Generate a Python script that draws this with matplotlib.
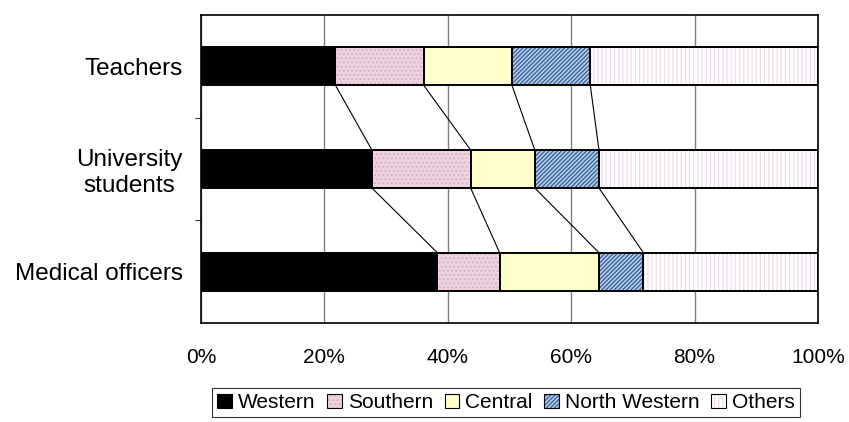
import matplotlib.pyplot as plt
import matplotlib.patches as mpatches
import numpy as np

plt.rcParams['font.family'] = ['Liberation Sans', 'DejaVu Sans']
plt.rcParams['hatch.linewidth'] = 0.9

grupos = ['Teachers', 'University\nstudents', 'Medical officers']
regioes = ['Western', 'Southern', 'Central', 'North Western', 'Others']

# percentagem por região, uma lista por região (ordem dos grupos acima)
western = [21.8, 27.7, 38.3]
southern = [14.3, 16.0, 10.1]
central = [14.3, 10.4, 16.1]
north_western = [12.7, 10.4, 7.2]
others = [36.9, 35.5, 28.3]

ticks_x = [0, 20, 40, 60, 80, 100]
ticks_x_labels = ['0%', '20%', '40%', '60%', '80%', '100%']

valores = np.array([western, southern, central, north_western, others])

# cor de fundo, hachura e cor da hachura de cada região
fundo = ['black', '#EDD3E0', '#FFFFCC', '#B9CCE4', 'white']
hachura = [None, '....', None, '////////', '||||']
cor_hachura = ['black', '#D7AFC5', 'black', '#2F5F9F', '#EFDCEA']

fig = plt.figure(figsize=(8.49, 4.22), dpi=100)
ax = fig.add_axes([0.2367, 0.2346, 0.9635 - 0.2367, 0.9645 - 0.2346])

y = np.arange(len(grupos))
altura = 0.37
inicio = np.zeros(len(grupos))
handles = []
for i in range(len(regioes)):
    # camada de preenchimento/hachura
    ax.barh(y, valores[i], left=inicio, height=altura, color=fundo[i],
            hatch=hachura[i], edgecolor=cor_hachura[i], linewidth=0, zorder=3)
    # contorno preto
    ax.barh(y, valores[i], left=inicio, height=altura, fill=False,
            edgecolor='black', linewidth=1.4, zorder=4)
    h1 = mpatches.Patch(facecolor=fundo[i], hatch=hachura[i],
                        edgecolor=cor_hachura[i], linewidth=0)
    h2 = mpatches.Patch(fill=False, edgecolor='black', linewidth=0.8)
    handles.append((h1, h2))
    inicio = inicio + valores[i]

# linhas de série entre barras vizinhas
acumulado = np.cumsum(valores, axis=0)
for i in range(len(regioes) - 1):
    for j in range(len(grupos) - 1):
        ax.plot([acumulado[i, j], acumulado[i, j + 1]],
                [y[j] + altura / 2, y[j + 1] - altura / 2],
                color='black', linewidth=0.8, zorder=2)

ax.set_xlim(0, 100)
ax.set_ylim(len(grupos) - 0.5, -0.5)
ax.set_xticks(ticks_x)
ax.set_xticklabels(ticks_x_labels, fontsize=15)
ax.set_yticks(y)
ax.set_yticklabels(grupos, fontsize=17.5, multialignment='center')
ax.set_yticks(np.arange(1, len(grupos)) - 0.5, minor=True)
ax.tick_params(axis='x', length=0, pad=18)
ax.tick_params(axis='y', which='major', length=0, pad=13)
ax.tick_params(axis='y', which='minor', length=4, width=0.8, color='#333333')
ax.xaxis.grid(True, color='#808080', linewidth=1.0, zorder=0)
ax.set_axisbelow(True)
for s in ax.spines.values():
    s.set_color('black')
    s.set_linewidth(1.2)

leg = fig.legend(handles, regioes, loc='upper left', ncol=5,
                 bbox_to_anchor=(212 / 849, 1 - 388 / 422), fontsize=15,
                 frameon=True, fancybox=False, edgecolor='black',
                 handlelength=0.7, handleheight=0.7, handletextpad=0.3,
                 columnspacing=0.55, borderpad=0.25, borderaxespad=0)
leg.get_frame().set_linewidth(0.8)

fig.savefig('out.png', dpi=100)
